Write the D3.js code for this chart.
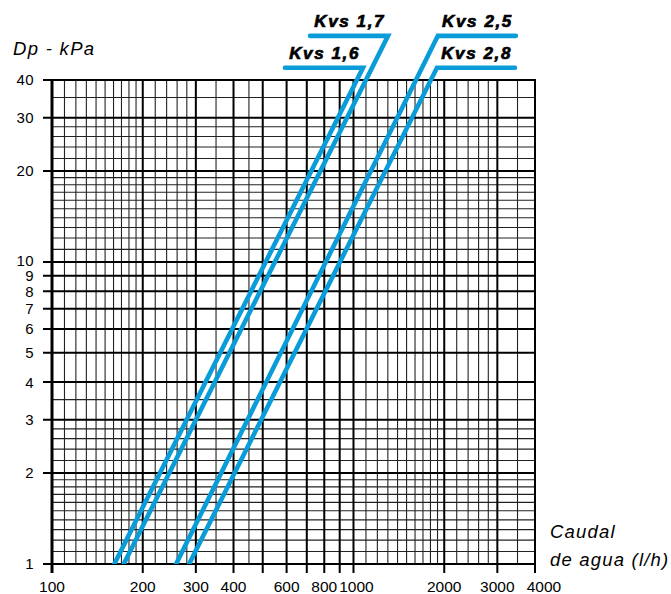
<!DOCTYPE html>
<html><head><meta charset="utf-8">
<script src="https://cdn.jsdelivr.net/npm/d3@7"></script>
<style>
html,body{margin:0;padding:0;background:#fff;}
svg{display:block;}
text{font-family:"Liberation Sans",Arial,Helvetica,sans-serif;fill:#000;}
</style></head><body>
<svg id="chart" width="671" height="594"></svg>
<script>
// ---- data ----
const xMajorTicks = [100,200,300,400,500,600,700,800,900,1000,2000,3000,4000];
const xTickLabels = [100,200,300,400,600,800,1000,2000,3000,4000];
const xMinorGrid = [110,120,130,140,150,160,170,180,190,220,240,260,280,350,450,
                    1100,1200,1300,1400,1500,1600,1700,1800,1900,2200,2400,2600,2800,3500];
const yMajorTicks = [1,2,3,4,5,6,7,8,9,10,20,30,40];
const yMinorGrid = [1.1,1.2,1.3,1.4,1.5,1.6,1.7,1.8,1.9,2.2,2.4,2.6,2.8,3.5,
                    11,12,13,14,15,16,17,18,19,22,24,26,28,35];
const seriesNames = ["Kvs 1,6","Kvs 1,7","Kvs 2,5","Kvs 2,8"];
const flowAtBottom = [161,173,258,285];      // l/h at Dp = 1 kPa
const flowAtTop    = [1075,1302,1905,1892];  // l/h at upper end of line
const dpAtTop      = [43.9,56,56,43.9];      // kPa at upper end of line
const labelSide    = ["left","left","right","right"];

// ---- layout ----
const svg = d3.select("#chart");
const x = d3.scaleLog().domain([100,4000]).range([52,535]);
const y = d3.scaleLog().domain([1,40]).range([564,80]);
const blue = "#0a9cd9";

const g = svg.append("g");

// minor grid
g.selectAll(".vx").data(xMinorGrid).join("line")
  .attr("x1",d=>x(d)).attr("x2",d=>x(d)).attr("y1",y(40)).attr("y2",y(1))
  .attr("stroke","#222").attr("stroke-width",1.1);
g.selectAll(".hy").data(yMinorGrid).join("line")
  .attr("y1",d=>y(d)).attr("y2",d=>y(d)).attr("x1",x(100)).attr("x2",x(4000))
  .attr("stroke","#222").attr("stroke-width",1.1);

// major grid + ticks
g.selectAll(".mx").data(xMajorTicks).join("line")
  .attr("x1",d=>x(d)).attr("x2",d=>x(d)).attr("y1",y(40)-1).attr("y2",y(1)+9)
  .attr("stroke","#000").attr("stroke-width",d=>d===100?3:2);
g.selectAll(".my").data(yMajorTicks).join("line")
  .attr("y1",d=>y(d)).attr("y2",d=>y(d)).attr("x1",x(100)-9).attr("x2",x(4000)+1)
  .attr("stroke","#000").attr("stroke-width",2);

// tick labels
const xLabelDx = {1000:3, 4000:9};
g.selectAll(".xl").data(xTickLabels).join("text")
  .attr("x",d=>x(d)+(xLabelDx[d]||0)).attr("y",592)
  .attr("text-anchor","middle").attr("font-size",15.5)
  .text(d=>d);
const yLabelDy = {10:-1.5, 8:0.5};
g.selectAll(".yl").data(yMajorTicks).join("text")
  .attr("x",34).attr("y",d=>y(d)+(yLabelDy[d]||0)).attr("dy","0.36em")
  .attr("text-anchor","end").attr("font-size",15)
  .style("letter-spacing","0.4px").text(d=>d);

// axis titles
svg.append("text").attr("x",13).attr("y",55).attr("font-size",18.5)
  .attr("font-style","italic").style("letter-spacing","1.3px").text("Dp - kPa");
svg.append("text").attr("x",550).attr("y",538).attr("font-size",18.5)
  .attr("font-style","italic").style("letter-spacing","1.2px").text("Caudal");
svg.append("text").attr("x",550).attr("y",566).attr("font-size",18.5)
  .attr("font-style","italic").style("letter-spacing","1.2px").text("de agua (l/h)");

// series lines
svg.append("clipPath").attr("id","clipB").append("rect")
  .attr("x",0).attr("y",0).attr("width",671).attr("height",y(1));
const leaderLen = 78;
const series = seriesNames.map((n,i)=>({name:n,q0:flowAtBottom[i],q1:flowAtTop[i],dp1:dpAtTop[i],side:labelSide[i]}));
const sg = svg.append("g").attr("clip-path","url(#clipB)");
series.forEach(s=>{
  const bx = x(s.q0), by = y(1) + 4;
  const tx = x(s.q1), ty = y(s.dp1);
  const slope = (ty - y(1)) / (tx - bx);
  const bx2 = bx + 4/slope;
  const ex = s.side==="left" ? tx - leaderLen : tx + leaderLen;
  sg.append("path")
    .attr("d",`M${bx2},${by}L${tx},${ty}L${ex},${ty}`)
    .attr("fill","none").attr("stroke",blue).attr("stroke-width",4.6)
    .attr("stroke-linecap","round").attr("stroke-linejoin","miter");
  const right = Math.max(tx,ex);
  svg.append("text").attr("x",right-3).attr("y",ty-9)
    .attr("text-anchor","end").attr("font-size",17)
    .attr("font-weight","bold").attr("font-style","italic")
    .attr("stroke","#000").attr("stroke-width",0.7)
    .style("letter-spacing","1.6px").text(s.name);
});
</script>
</body></html>
